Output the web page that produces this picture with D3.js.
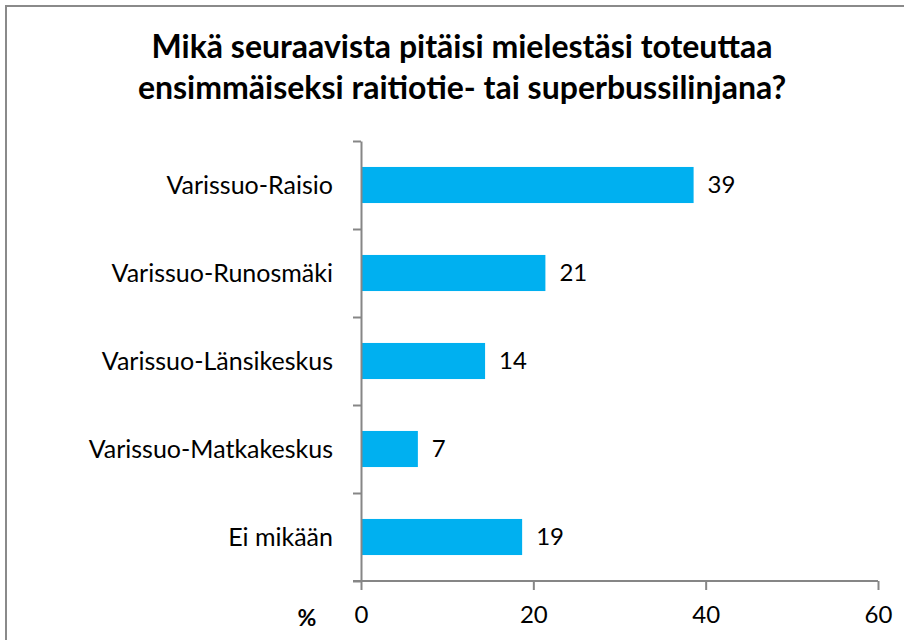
<!DOCTYPE html>
<html>
<head>
<meta charset="utf-8">
<script src="https://cdn.jsdelivr.net/npm/d3@7"></script>
<style>
  html, body { margin: 0; padding: 0; background: #fff; }
  svg { display: block; }
  .axis text { font-family: Lato, "Open Sans", sans-serif; font-size: 24px; fill: #000; }
</style>
</head>
<body>
<svg id="chart" width="904" height="640"></svg>
<script>
// question title, two lines
const titleLines = [
    "Mikä seuraavista pitäisi mielestäsi toteuttaa",
    "ensimmäiseksi raitiotie- tai superbussilinjana?"
];
const categories = ["Varissuo-Raisio", "Varissuo-Runosmäki", "Varissuo-Länsikeskus", "Varissuo-Matkakeskus", "Ei mikään"];
// bar lengths as measured; labels show them rounded
const values = [38.6, 21.4, 14.4, 6.6, 18.7];
const xTicks = [0, 20, 40, 60];
const unitLabel = "%";

const svg = d3.select("#chart");
const font = "Lato, 'Open Sans', sans-serif";
const axisColor = "#868686";

const plot = { left: 361, right: 878, top: 141, bottom: 581 };

// frame
svg.append("rect")
    .attr("x", 6).attr("y", 6).attr("width", 920).attr("height", 660)
    .attr("fill", "none").attr("stroke", "#8a8a8a").attr("stroke-width", 2);

// title
svg.append("g").selectAll("text")
    .data(titleLines)
    .join("text")
    .attr("x", 462)
    .attr("y", (d, i) => 58 + i * 41)
    .attr("text-anchor", "middle")
    .attr("font-family", font)
    .attr("font-weight", "bold")
    .attr("font-size", 32)
    .attr("fill", "#000")
    .text(d => d);

const x = d3.scaleLinear().domain([0, 60]).range([plot.left, plot.right]);
const y = d3.scaleBand().domain(categories).range([plot.top, plot.bottom])
    .paddingInner(0.59).paddingOuter(0.295);
const slot = d3.scaleLinear().domain([0, categories.length]).range([plot.top, plot.bottom]);

// bars
svg.append("g").selectAll("rect")
    .data(values)
    .join("rect")
    .attr("x", x(0))
    .attr("y", (d, i) => y(categories[i]))
    .attr("width", d => x(d) - x(0))
    .attr("height", y.bandwidth())
    .attr("fill", "#00b0f0");

// value labels
svg.append("g").selectAll("text")
    .data(values)
    .join("text")
    .attr("x", d => x(d) + 14)
    .attr("y", (d, i) => y(categories[i]) + y.bandwidth() / 2)
    .attr("dy", "0.35em")
    .attr("font-family", font)
    .attr("font-size", 24)
    .attr("fill", "#000")
    .text(d => d3.format(".0f")(d));

// category labels
svg.append("g").selectAll("text")
    .data(categories)
    .join("text")
    .attr("x", 333)
    .attr("y", d => y(d) + y.bandwidth() / 2)
    .attr("dy", "0.35em")
    .attr("text-anchor", "end")
    .attr("font-family", font)
    .attr("font-size", 25)
    .attr("fill", "#000")
    .text(d => d);

// y axis: ticks between categories
const yAxis = svg.append("g").attr("class", "axis")
    .attr("transform", `translate(${plot.left},0)`)
    .call(d3.axisLeft(slot).ticks(categories.length).tickSize(8).tickSizeOuter(0).tickFormat(""));
yAxis.select(".domain").attr("stroke", axisColor).attr("stroke-width", 2);
yAxis.selectAll(".tick line").attr("stroke", axisColor).attr("stroke-width", 2);

// x axis
const xAxis = svg.append("g").attr("class", "axis")
    .attr("transform", `translate(0,${plot.bottom})`)
    .call(d3.axisBottom(x).tickValues(xTicks).tickSize(9).tickSizeOuter(0).tickPadding(16));
xAxis.select(".domain").remove();
xAxis.append("line")
    .attr("x1", x(0) - 8).attr("x2", x(60))
    .attr("stroke", axisColor).attr("stroke-width", 2);
xAxis.selectAll(".tick line").attr("stroke", axisColor).attr("stroke-width", 2);

svg.append("text")
    .attr("x", 307)
    .attr("y", plot.bottom + 37)
    .attr("dy", "0.35em")
    .attr("text-anchor", "middle")
    .attr("font-family", font)
    .attr("font-weight", "bold")
    .attr("font-size", 23)
    .attr("fill", "#000")
    .text(unitLabel);
</script>
</body>
</html>
